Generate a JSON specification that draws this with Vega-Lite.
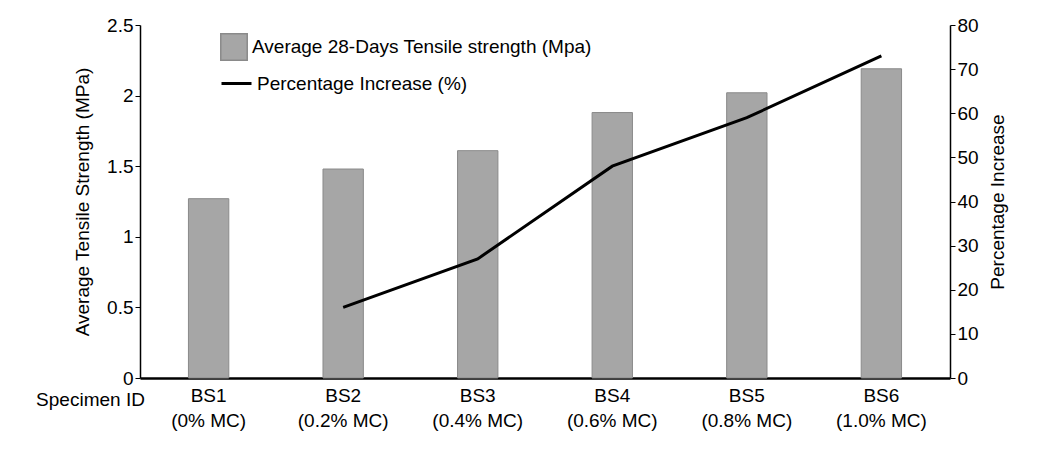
{
"$schema":"https://vega.github.io/schema/vega-lite/v6.json",
"width":810,"height":353,
"autosize":"none",
"padding":{"left":140,"top":25,"right":89,"bottom":83},
"background":"white",
"config":{"font":"Liberation Sans","view":{"stroke":null},"axis":{"grid":false,"domainColor":"black","tickColor":"black","labelColor":"black","titleColor":"black","labelFontSize":19,"titleFontSize":19,"titleFontWeight":"normal","domainWidth":1.5}},
"data":{"values":[
{"id":"BS1|(0% MC)","s":1.27,"p":null},
{"id":"BS2|(0.2% MC)","s":1.48,"p":16},
{"id":"BS3|(0.4% MC)","s":1.61,"p":27},
{"id":"BS4|(0.6% MC)","s":1.88,"p":48},
{"id":"BS5|(0.8% MC)","s":2.02,"p":59},
{"id":"BS6|(1.0% MC)","s":2.19,"p":73}
]},
"encoding":{"x":{"field":"id","type":"nominal","sort":null,"scale":{"paddingInner":0.7,"paddingOuter":0.36},
 "axis":{"labelAngle":0,"labelExpr":"split(datum.value,'|')","ticks":false,"labelPadding":8,"labelLineHeight":25,"title":"Specimen ID","titleX":-50,"titleY":21,"titleAlign":"center","titleBaseline":"middle","domainWidth":2.5}}},
"layer":[
{"mark":{"type":"bar","stroke":"#8a8a8a","strokeWidth":1},
 "encoding":{"y":{"field":"s","type":"quantitative","scale":{"domain":[0,2.5]},"axis":{"title":"Average Tensile Strength (MPa)","values":[0,0.5,1,1.5,2,2.5],"format":"~g","titlePadding":14}},
 "fill":{"datum":"Average 28-Days Tensile strength (Mpa)","type":"nominal","scale":{"range":["#a6a6a6"]},"legend":{"orient":"none","legendX":80,"legendY":8,"title":null,"symbolType":"square","symbolSize":700,"symbolStrokeColor":"#8a8a8a","labelFontSize":19,"labelLimit":0,"labelColor":"black","labelFont":"Liberation Sans"}}}},
{"mark":{"type":"line","color":"black","strokeWidth":3},
 "encoding":{"y":{"field":"p","type":"quantitative","scale":{"domain":[0,80]},"axis":{"orient":"right","title":"Percentage Increase","titleAngle":270,"titleBaseline":"top","values":[0,10,20,30,40,50,60,70,80],"titlePadding":10}},
 "stroke":{"datum":"Percentage Increase (%)","type":"nominal","scale":{"range":["black"]},"legend":{"orient":"none","legendX":80,"legendY":42,"title":null,"symbolType":"stroke","symbolStrokeWidth":3,"symbolSize":900,"labelFontSize":19,"labelLimit":0,"labelColor":"black","labelFont":"Liberation Sans"}}}}
],
"resolve":{"scale":{"y":"independent","fill":"independent","stroke":"independent"}}
}
